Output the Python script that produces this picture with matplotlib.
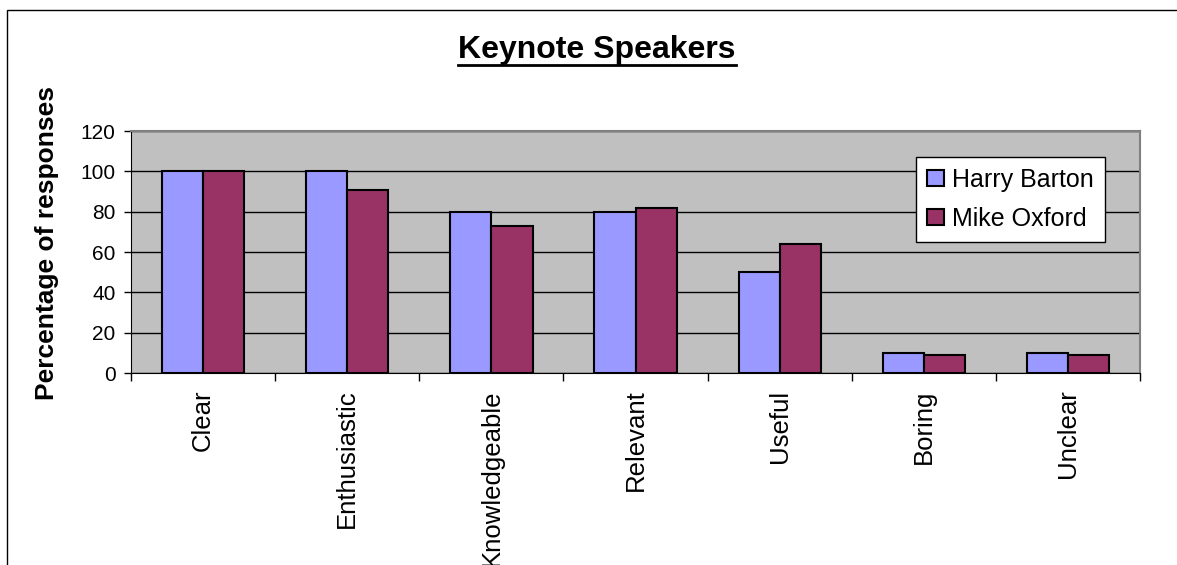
import numpy as np
import matplotlib.pyplot as plt
from matplotlib.patches import Rectangle
from matplotlib.lines import Line2D

plt.rcParams['font.family'] = ['Liberation Sans', 'DejaVu Sans']

categories = ["Clear", "Enthusiastic", "Knowledgeable", "Relevant", "Useful", "Boring", "Unclear"]
harry_barton = [100, 100, 80, 80, 50, 10, 10]
mike_oxford = [100, 91, 73, 82, 64, 9, 9]
yticks = [0, 20, 40, 60, 80, 100, 120]

fig = plt.figure(figsize=(11.77, 5.65), dpi=100)
ax = fig.add_axes([0.1113, 0.3398, 0.8574, 0.4283])

x = np.arange(len(categories))
w = 0.285
ax.bar(x - w / 2, harry_barton, w, color="#9999FF", edgecolor="black", linewidth=1.5,
       label="Harry Barton", zorder=3)
ax.bar(x + w / 2, mike_oxford, w, color="#993366", edgecolor="black", linewidth=1.5,
       label="Mike Oxford", zorder=3)

ax.set_facecolor("#C0C0C0")
ax.set_xlim(-0.5, len(categories) - 0.5)
ax.set_ylim(0, 120)
ax.set_yticks(yticks)
ax.tick_params(axis="y", labelsize=15, length=5, width=1, direction="out", pad=6)
ax.yaxis.grid(True, color="black", linewidth=1, zorder=1)
ax.set_axisbelow(True)

# category labels in the middle, tick marks between the groups
ax.set_xticks(np.arange(len(categories) + 1) - 0.5)
ax.set_xticklabels([])
ax.tick_params(axis="x", which="major", length=6, width=1, direction="out")
ax.set_xticks(x, minor=True)
ax.set_xticklabels(categories, minor=True, rotation=90, fontsize=18.5)
ax.tick_params(axis="x", which="minor", length=0, pad=12)

for side in ("top", "right"):
    ax.spines[side].set_color("#808080")
    ax.spines[side].set_linewidth(1.5)
for side in ("left", "bottom"):
    ax.spines[side].set_color("black")

ax.set_ylabel("Percentage of responses", fontsize=19, fontweight="bold")
ax.yaxis.set_label_coords(-0.071, 0.537)

leg = ax.legend(loc="upper right", bbox_to_anchor=(0.965, 0.893), borderaxespad=0,
                fontsize=18, fancybox=False, framealpha=1, edgecolor="black",
                handlelength=0.7, handleheight=0.6, handletextpad=0.3,
                borderpad=0.45, labelspacing=0.6)
leg.get_frame().set_linewidth(1)

title = fig.text(597 / 1177, 1 - 50 / 565, "Keynote Speakers", fontsize=23,
                 fontweight="bold", ha="center", va="center")

# underline the title
fig.canvas.draw()
bb = title.get_window_extent().transformed(fig.transFigure.inverted())
fig.add_artist(Line2D([bb.x0, bb.x1], [bb.y0 + 0.0, bb.y0 + 0.0], color="black",
                      linewidth=2, transform=fig.transFigure))

# chart border
fig.add_artist(Rectangle((7 / 1177, -0.1), 1.2, 1 - 10 / 565 + 0.1, fill=False,
                         edgecolor="black", linewidth=1, transform=fig.transFigure))

fig.savefig("out.png", dpi=100)
